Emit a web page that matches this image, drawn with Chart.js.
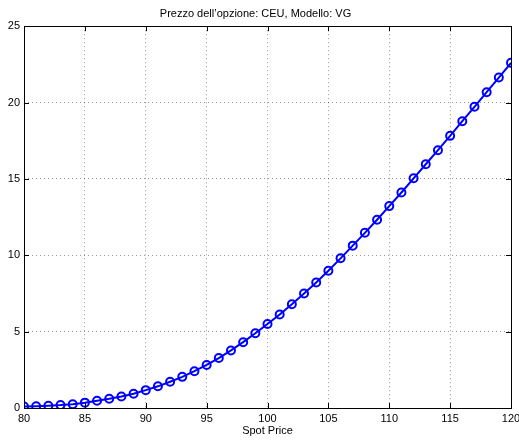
<!DOCTYPE html>
<html>
<head>
<meta charset="utf-8">
<script src="https://cdn.jsdelivr.net/npm/chart.js@4"></script>
<style>
  html, body { margin: 0; padding: 0; background: #fff; }
  #wrap { width: 519px; height: 441px; }
</style>
</head>
<body>
<div id="wrap"><canvas id="chart" width="519" height="441"></canvas></div>
<script>
// spot prices and option prices
const spotPrices = [80, 81, 82, 83, 84, 85, 86, 87, 88, 89, 90, 91, 92, 93, 94, 95, 96, 97, 98, 99,
                    100, 101, 102, 103, 104, 105, 106, 107, 108, 109, 110, 111, 112, 113, 114, 115, 116, 117, 118, 119, 120];
const optionPrices = [0.10, 0.12, 0.15, 0.19, 0.25, 0.35, 0.47, 0.60, 0.75, 0.93, 1.17, 1.42, 1.72, 2.04, 2.41, 2.82, 3.27, 3.77, 4.31, 4.89,
                      5.50, 6.12, 6.79, 7.50, 8.22, 8.99, 9.80, 10.63, 11.47, 12.33, 13.22, 14.11, 15.04, 15.96, 16.88, 17.82, 18.78, 19.72, 20.68, 21.64, 22.60];
const xTicks = [80, 85, 90, 95, 100, 105, 110, 115, 120];
const yTicks = [0, 5, 10, 15, 20, 25];

const titleText = 'Prezzo dell’opzione: CEU, Modello: VG';
const xLabel = 'Spot Price';

const FONT = '"Liberation Sans", Arial, Helvetica, sans-serif';

// box and inward tick marks, like a matlab axes
const boxTicks = {
    id: 'boxTicks',
    afterDraw(chart) {
        const ctx = chart.ctx;
        const a = chart.chartArea;
        const xs = chart.scales.x;
        const ys = chart.scales.y;
        const len = 5;
        ctx.save();
        ctx.strokeStyle = '#000';
        ctx.lineWidth = 1;
        ctx.beginPath();
        xTicks.forEach(v => {
            const px = Math.round(xs.getPixelForValue(v)) + 0.5;
            ctx.moveTo(px, a.bottom); ctx.lineTo(px, a.bottom - len);
            ctx.moveTo(px, a.top); ctx.lineTo(px, a.top + len);
        });
        yTicks.forEach(v => {
            const py = Math.round(ys.getPixelForValue(v)) + 0.5;
            ctx.moveTo(a.left, py); ctx.lineTo(a.left + len, py);
            ctx.moveTo(a.right, py); ctx.lineTo(a.right - len, py);
        });
        ctx.stroke();
        ctx.strokeRect(Math.round(a.left) + 0.5, Math.round(a.top) + 0.5,
                       Math.round(a.right - a.left), Math.round(a.bottom - a.top));
        ctx.restore();
    }
};

new Chart(document.getElementById('chart'), {
    type: 'line',
    data: {
        datasets: [{
            data: spotPrices.map((x, i) => ({ x: x, y: optionPrices[i] })),
            borderColor: '#0000ff',
            borderWidth: 2,
            backgroundColor: 'rgba(0,0,0,0)',
            pointRadius: 4,
            pointBorderWidth: 2,
            pointBorderColor: '#0000ff',
            pointBackgroundColor: 'rgba(0,0,0,0)',
            tension: 0
        }]
    },
    options: {
        responsive: false,
        animation: false,
        layout: { padding: { left: 0, right: 8, top: 0, bottom: 0 } },
        plugins: {
            legend: { display: false },
            tooltip: { enabled: false },
            title: {
                display: true,
                text: titleText,
                color: '#000',
                font: { family: FONT, size: 11, weight: 'normal' },
                padding: { top: 7, bottom: 6 }
            }
        },
        scales: {
            x: {
                type: 'linear',
                min: 80,
                max: 120,
                afterBuildTicks(scale) { scale.ticks = xTicks.map(v => ({ value: v })); },
                afterFit(scale) {
                    scale.height = 33;
                    scale.paddingLeft = 0;
                    scale.paddingRight = 0;
                },
                ticks: { color: '#000', font: { family: FONT, size: 11 }, padding: 4, maxRotation: 0 },
                grid: { color: 'rgba(0,0,0,0.4)', drawTicks: false },
                border: { display: false, dash: [1, 3] },
                title: {
                    display: true,
                    text: xLabel,
                    color: '#000',
                    font: { family: FONT, size: 11 },
                    padding: { top: 0, bottom: 3 }
                }
            },
            y: {
                min: 0,
                max: 25,
                afterBuildTicks(scale) { scale.ticks = yTicks.map(v => ({ value: v })); },
                afterFit(scale) {
                    scale.width = 24;
                    scale.paddingTop = 0;
                    scale.paddingBottom = 0;
                },
                ticks: { color: '#000', font: { family: FONT, size: 11 }, padding: 4 },
                grid: { color: 'rgba(0,0,0,0.4)', drawTicks: false },
                border: { display: false, dash: [1, 3] }
            }
        }
    },
    plugins: [boxTicks]
});
</script>
</body>
</html>
